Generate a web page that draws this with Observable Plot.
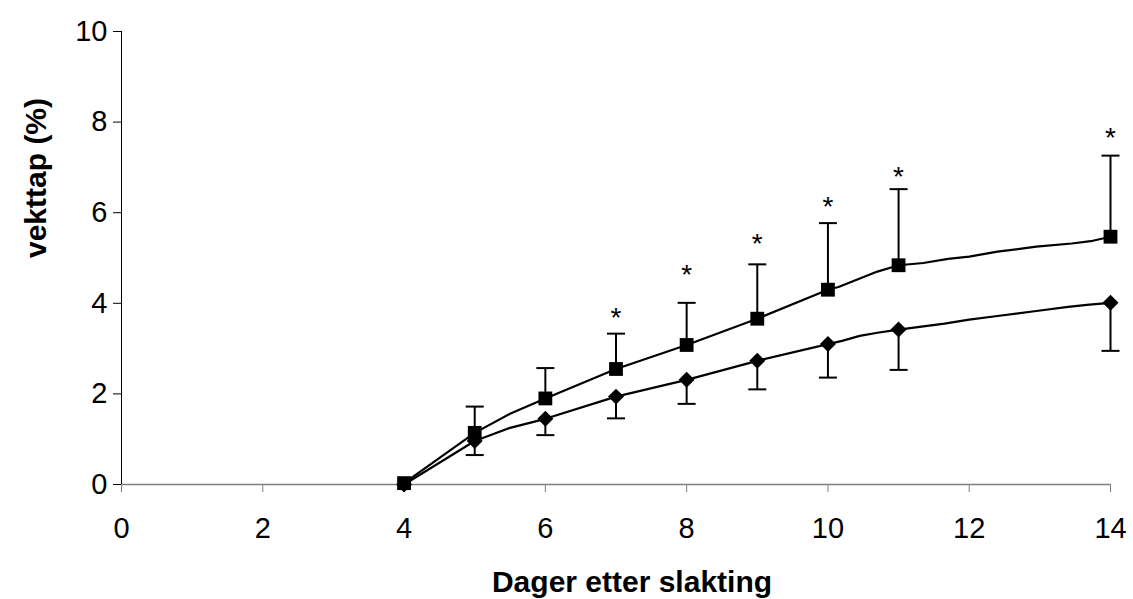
<!DOCTYPE html>
<html>
<head>
<meta charset="utf-8">
<script src="https://cdn.jsdelivr.net/npm/d3@7"></script>
<script src="https://cdn.jsdelivr.net/npm/@observablehq/plot@0.6"></script>
<style>
  html, body { margin: 0; padding: 0; background: #fff; }
  #chart { width: 1133px; height: 599px; }
</style>
</head>
<body>
<div id="chart"></div>
<script>
// Marker days and values
const days = [4, 5, 6, 7, 8, 9, 10, 11, 14];
const squareMean = [0.03, 1.14, 1.90, 2.55, 3.08, 3.66, 4.30, 4.84, 5.47];
const squareUpper = [null, 1.72, 2.57, 3.33, 4.01, 4.86, 5.77, 6.52, 7.26];
const diamondMean = [0.00, 0.96, 1.45, 1.94, 2.31, 2.73, 3.10, 3.42, 4.01];
const diamondLower = [null, 0.65, 1.09, 1.46, 1.78, 2.10, 2.36, 2.53, 2.95];

// Line traces (more frequent measurements)
const squareLineDays = [4, 5, 5.5, 6, 7, 8, 9, 10, 10.15, 10.7, 11, 11.35, 11.7, 12, 12.4, 12.95, 13.45, 13.75, 14];
const squareLineVals = [0.03, 1.14, 1.56, 1.90, 2.55, 3.08, 3.66, 4.30, 4.36, 4.70, 4.84, 4.89, 4.98, 5.03, 5.14, 5.25, 5.32, 5.38, 5.47];
const diamondLineDays = [4, 5, 5.5, 6, 7, 8, 9, 10, 10.2, 10.45, 10.7, 11, 11.65, 12, 12.4, 12.95, 13.4, 13.7, 14];
const diamondLineVals = [0.00, 0.96, 1.25, 1.45, 1.94, 2.31, 2.73, 3.10, 3.17, 3.28, 3.35, 3.42, 3.55, 3.64, 3.72, 3.83, 3.92, 3.97, 4.01];

// Significance markers
const starDays = [7, 8, 9, 10, 11, 14];
const starY = [3.82, 4.78, 5.47, 6.28, 6.94, 7.81];

const xTicks = [0, 2, 4, 6, 8, 10, 12, 14];
const yTicks = [0, 2, 4, 6, 8, 10];

const markers = days.map((d, i) => ({day: d, sq: squareMean[i], sqUp: squareUpper[i], di: diamondMean[i], diLo: diamondLower[i]}));
const bars = markers.filter(d => d.sqUp != null);
const sqLine = squareLineDays.map((d, i) => ({day: d, v: squareLineVals[i]}));
const diLine = diamondLineDays.map((d, i) => ({day: d, v: diamondLineVals[i]}));
const stars = starDays.map((d, i) => ({day: d, y: starY[i]}));

const cap = {draw(ctx, size) { ctx.moveTo(-9, 0); ctx.lineTo(9, 0); }};

const font = "'Liberation Sans', Arial, sans-serif";

const chart = Plot.plot({
  width: 1133,
  height: 599,
  marginLeft: 121,
  marginRight: 23,
  marginTop: 31,
  marginBottom: 115,
  style: {fontFamily: font, color: "#000", background: "#fff"},
  x: {domain: [0, 14]},
  y: {domain: [0, 10]},
  marks: [
    Plot.axisX(xTicks, {tickSize: 8, tickPadding: 25, fontSize: 29, stroke: "#808080", fill: "#000", label: null}),
    Plot.axisY(yTicks, {tickSize: 8, tickPadding: 6, fontSize: 29, stroke: "#000", fill: "#000", label: null}),
    Plot.ruleX([0], {stroke: "#000", strokeWidth: 1}),
    Plot.ruleY([0], {stroke: "#808080", strokeWidth: 1.5}),
    // error bars
    Plot.ruleX(bars, {x: "day", y1: "sq", y2: "sqUp", stroke: "#000", strokeWidth: 2}),
    Plot.dot(bars, {x: "day", y: "sqUp", symbol: cap, stroke: "#000", strokeWidth: 2, fill: "none"}),
    Plot.ruleX(bars, {x: "day", y1: "di", y2: "diLo", stroke: "#000", strokeWidth: 2}),
    Plot.dot(bars, {x: "day", y: "diLo", symbol: cap, stroke: "#000", strokeWidth: 2, fill: "none"}),
    // lines
    Plot.line(sqLine, {x: "day", y: "v", stroke: "#000", strokeWidth: 2.2}),
    Plot.line(diLine, {x: "day", y: "v", stroke: "#000", strokeWidth: 2.2}),
    // markers
    Plot.dot(markers, {x: "day", y: "sq", symbol: "square", r: 7.8, fill: "#000", stroke: "none"}),
    Plot.dot(markers, {x: "day", y: "di", symbol: "diamond2", r: 7.2, fill: "#000", stroke: "none"}),
    // stars
    Plot.text(stars, {x: "day", y: "y", text: () => "*", fontSize: 28, lineAnchor: "middle", dy: 7, fill: "#000"}),
    // axis titles
    Plot.text(["Dager etter slakting"], {frameAnchor: "bottom", dx: 16, dy: 98, lineAnchor: "middle", fontSize: 30, fontWeight: "bold", fill: "#000", letterSpacing: "1.5px"}),
    Plot.text(["vekttap (%)"], {frameAnchor: "left", dx: -85, rotate: -90, lineAnchor: "middle", fontSize: 30, fontWeight: "bold", fill: "#000", letterSpacing: "0.5px"})
  ]
});
document.getElementById("chart").appendChild(chart);
</script>
</body>
</html>
